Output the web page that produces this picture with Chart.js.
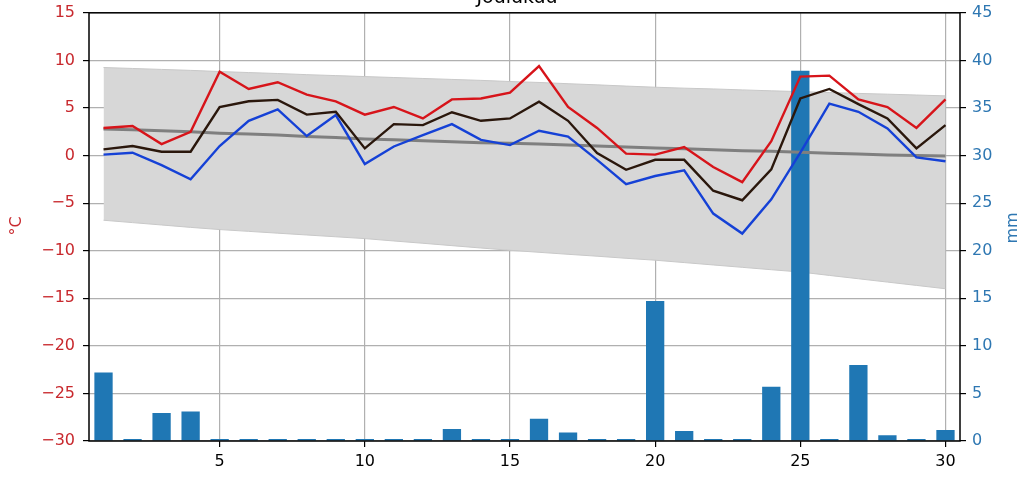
<!DOCTYPE html>
<html>
<head>
<meta charset="utf-8">
<script src="https://cdn.jsdelivr.net/npm/chart.js@4.4.1/dist/chart.umd.min.js"></script>
<style>
    html, body { margin: 0; padding: 0; background: #fff; overflow: hidden; }
    #wrap { position: absolute; left: 0; top: -20px; width: 1034px; height: 504px; }
</style>
</head>
<body>
<div id="wrap"><canvas id="chart" width="1034" height="504"></canvas></div>
<script>
// days of the month
const days = Array.from({ length: 30 }, (_, i) => String(i + 1));

// daily temperatures, °C
const tMax = [2.9, 3.1, 1.2, 2.5, 8.8, 7.0, 7.7, 6.4, 5.7, 4.3, 5.1, 3.9, 5.9, 6.0, 6.6,
    9.4, 5.1, 2.9, 0.2, 0.1, 0.9, -1.2, -2.8, 1.5, 8.3, 8.4, 5.9, 5.1, 2.9, 5.9];
const tMean = [0.65, 1.0, 0.4, 0.4, 5.1, 5.7, 5.85, 4.3, 4.6, 0.75, 3.3, 3.2, 4.55, 3.65, 3.9,
    5.65, 3.65, 0.25, -1.5, -0.45, -0.45, -3.7, -4.7, -1.45, 6.0, 7.0, 5.4, 3.9, 0.75, 3.2];
const tMin = [0.1, 0.3, -1.0, -2.5, 1.0, 3.65, 4.85, 2.05, 4.25, -0.9, 0.95, 2.15, 3.3, 1.65, 1.1,
    2.6, 2.0, -0.45, -3.0, -2.15, -1.55, -6.1, -8.2, -4.6, 0.3, 5.45, 4.6, 2.85, -0.2, -0.6];

// long-term mean and range
const climMean = [2.8, 2.7, 2.6, 2.5, 2.35, 2.25, 2.15, 2.0, 1.9, 1.75, 1.65, 1.55, 1.45, 1.35, 1.3,
    1.2, 1.1, 1.0, 0.9, 0.8, 0.7, 0.6, 0.5, 0.45, 0.35, 0.25, 0.15, 0.05, 0.0, -0.05];
const climHigh = [9.25, 9.15, 9.05, 8.95, 8.83, 8.72, 8.62, 8.5, 8.4, 8.3, 8.2, 8.1, 8.0, 7.9, 7.78,
    7.68, 7.55, 7.43, 7.3, 7.18, 7.08, 7.0, 6.9, 6.8, 6.72, 6.62, 6.53, 6.45, 6.36, 6.27];
const climLow = [-6.8, -7.05, -7.3, -7.55, -7.78, -7.97, -8.16, -8.35, -8.54, -8.73, -8.98, -9.22, -9.47, -9.72, -9.96,
    -10.17, -10.38, -10.58, -10.8, -11.0, -11.25, -11.5, -11.75, -12.0, -12.24, -12.6, -12.95, -13.3, -13.65, -14.0];

// daily precipitation, mm
const precip = [7.2, 0.2, 2.95, 3.1, 0.2, 0.2, 0.2, 0.2, 0.2, 0.2, 0.2, 0.2, 1.25, 0.2, 0.2,
    2.35, 0.9, 0.2, 0.2, 14.7, 1.05, 0.2, 0.2, 5.7, 38.9, 0.2, 8.0, 0.6, 0.2, 1.15];

const FONT = 'DejaVu Sans';
const RED_TXT = '#c8282d';
const BLUE_TXT = '#2e77b2';
const GRID = '#b0b0b0';

const minus = v => (v < 0 ? '\u2212' + Math.abs(v) : String(v));

// black frame around plot + rotated axis titles
const framePlugin = {
    id: 'frame',
    afterDatasetsDraw(chart) {
        const { ctx, chartArea: a } = chart;
        ctx.save();
        ctx.strokeStyle = '#000';
        ctx.lineWidth = 1.5;
        ctx.strokeRect(a.left, a.top, a.right - a.left, a.bottom - a.top);
        ctx.restore();
    },
    afterDraw(chart) {
        const ctx = chart.ctx;
        ctx.save();
        ctx.font = '16px "' + FONT + '"';
        ctx.textAlign = 'center';
        ctx.textBaseline = 'middle';
        ctx.translate(17, 246);
        ctx.rotate(-Math.PI / 2);
        ctx.fillStyle = RED_TXT;
        ctx.fillText('°C', 0, 0);
        ctx.restore();
        ctx.save();
        ctx.font = '16px "' + FONT + '"';
        ctx.textAlign = 'center';
        ctx.textBaseline = 'middle';
        ctx.translate(1013, 248);
        ctx.rotate(-Math.PI / 2);
        ctx.fillStyle = BLUE_TXT;
        ctx.fillText('mm', 0, 0);
        ctx.restore();
    }
};

const lineDs = (label, data, color, width, order) => ({
    type: 'line',
    label: label,
    data: data,
    yAxisID: 'y',
    borderColor: color,
    borderWidth: width,
    pointRadius: 0,
    fill: false,
    tension: 0,
    order: order
});

new Chart(document.getElementById('chart'), {
    type: 'bar',
    data: {
        labels: days,
        datasets: [
            {
                type: 'line',
                label: 'high',
                data: climHigh,
                yAxisID: 'y',
                borderColor: '#c8c8c8',
                borderWidth: 1,
                pointRadius: 0,
                backgroundColor: '#d7d7d7',
                fill: '+1',
                order: 10
            },
            {
                type: 'line',
                label: 'low',
                data: climLow,
                yAxisID: 'y',
                borderColor: '#c8c8c8',
                borderWidth: 1,
                pointRadius: 0,
                fill: false,
                order: 9
            },
            {
                label: 'sade',
                data: precip,
                yAxisID: 'y1',
                backgroundColor: '#1f77b4',
                barPercentage: 0.63,
                categoryPercentage: 1.0,
                order: 8
            },
            lineDs('mean', climMean, '#7f7f7f', 3, 7),
            lineDs('min', tMin, '#1541d6', 2.4, 3),
            lineDs('avg', tMean, '#2a170c', 2.4, 2),
            lineDs('max', tMax, '#d7141a', 2.4, 1)
        ]
    },
    options: {
        responsive: false,
        animation: false,
        devicePixelRatio: 1,
        layout: { padding: { left: 0, right: 0, top: 0, bottom: 0 } },
        plugins: {
            legend: { display: false },
            tooltip: { enabled: false },
            title: {
                display: true,
                text: 'Joulukuu',
                color: '#000',
                font: { family: FONT, size: 19, weight: 'normal' },
                padding: { top: 7, bottom: 3 }
            }
        },
        scales: {
            x: {
                offset: true,
                grid: {
                    offset: false,
                    lineWidth: 1.2,
                    tickLength: 6,
                    color: c => ((c.index + 1) % 5 === 0 ? GRID : 'rgba(0,0,0,0)'),
                    tickColor: c => ((c.index + 1) % 5 === 0 ? '#000' : 'rgba(0,0,0,0)')
                },
                border: { display: false },
                ticks: {
                    autoSkip: false,
                    maxRotation: 0,
                    padding: 5,
                    color: '#000',
                    font: { family: FONT, size: 16 },
                    callback: (v, i) => ((i + 1) % 5 === 0 ? days[i] : '')
                },
                afterFit: s => { s.height = 43; }
            },
            y: {
                position: 'left',
                min: -30,
                max: 15,
                grid: { color: GRID, lineWidth: 1.2, tickLength: 6, tickColor: '#000' },
                border: { display: false },
                ticks: {
                    stepSize: 5,
                    padding: 8,
                    color: RED_TXT,
                    font: { family: FONT, size: 16 },
                    callback: v => minus(v)
                },
                afterFit: s => { s.width = 89; }
            },
            y1: {
                position: 'right',
                min: 0,
                max: 45,
                grid: { drawOnChartArea: false, lineWidth: 1.2, tickLength: 6, tickColor: '#000' },
                border: { display: false },
                ticks: {
                    stepSize: 5,
                    padding: 6,
                    color: BLUE_TXT,
                    font: { family: FONT, size: 16 }
                },
                afterFit: s => { s.width = 74; }
            }
        }
    },
    plugins: [framePlugin]
});
</script>
</body>
</html>
